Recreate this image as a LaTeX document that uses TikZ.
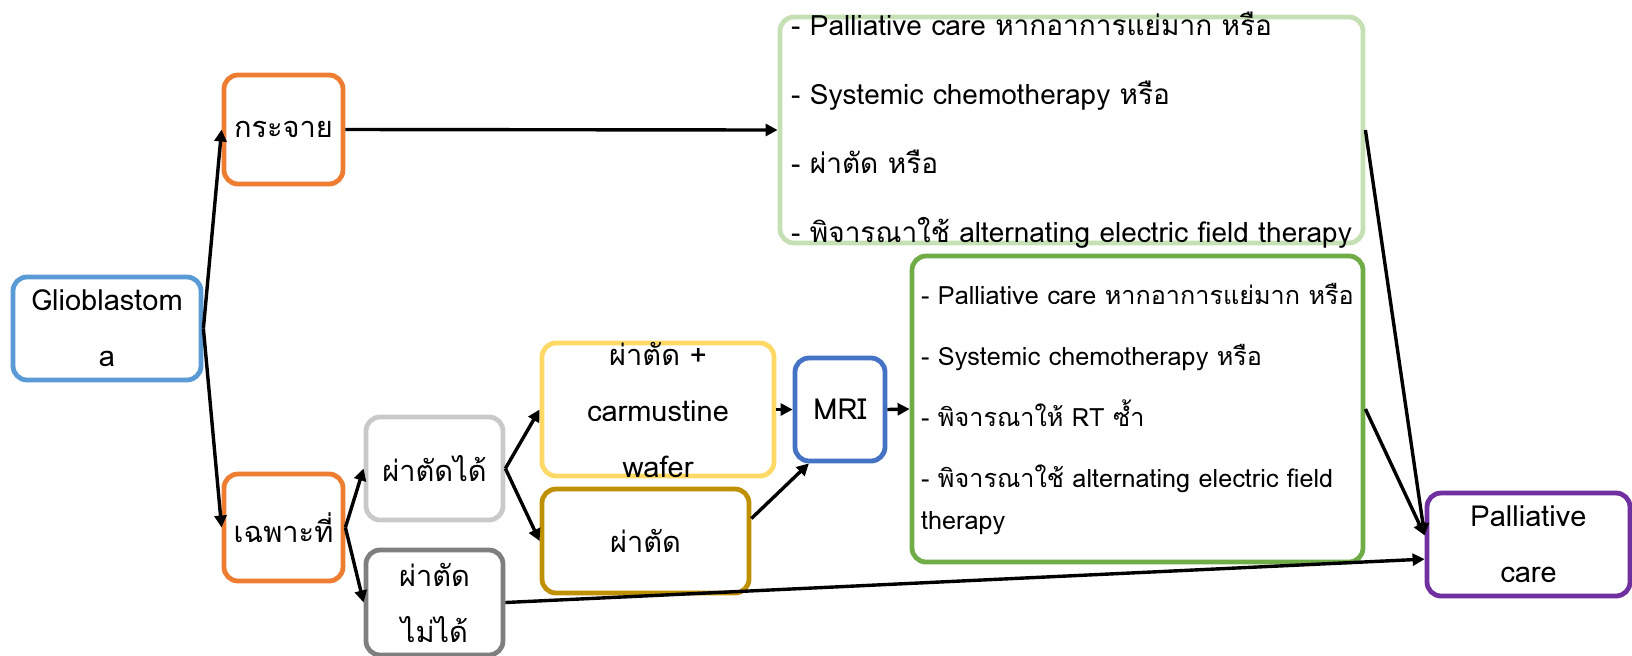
\documentclass[tikz,border=0pt]{standalone}
\usepackage{fontspec}
\setmainfont[Script=Thai]{Loma}
\usepackage{tikz}
\usetikzlibrary{arrows.meta,positioning}

\definecolor{gblue}{HTML}{5B9BD5}
\definecolor{gorange}{HTML}{ED7D31}
\definecolor{glgray}{HTML}{C9C9C9}
\definecolor{gdgray}{HTML}{7F7F7F}
\definecolor{gyellow}{HTML}{FFD966}
\definecolor{ggold}{HTML}{BF9000}
\definecolor{gmri}{HTML}{4472C4}
\definecolor{ggreen}{HTML}{70AD47}
\definecolor{glgreen}{HTML}{C5E0B4}
\definecolor{gpurple}{HTML}{7030A0}

\tikzset{
  box/.style={draw=#1, line width=2.4pt, rounded corners=7pt, fill=white,
    inner sep=0pt, align=center, font=\fontsize{14.5}{28}\selectfont},
  conn/.style={-{Triangle[length=6pt,width=6pt]}, line width=1.7pt},
}

\begin{document}
\begin{tikzpicture}[x=0.5pt,y=-0.5pt]
        \useasboundingbox (0,0) rectangle (1632,655);
        % boxes
        \node[box=gblue, minimum width=94pt, minimum height=51.5pt] (glio) at (107,328.5) {Glioblastom\\a};
        \node[box=gorange, minimum width=59.5pt, minimum height=54.5pt] (spread) at (283.5,129.5) {กระจาย};
        \node[box=gorange, minimum width=59.5pt, minimum height=53.5pt] (local) at (283.5,527.5) {เฉพาะที่};
        \node[box=glgray, minimum width=68.5pt, minimum height=51.5pt] (ok) at (434.5,468.5) {ผ่าตัดได้};
        \node[box=gdgray, minimum width=68.5pt, minimum height=52.5pt] (no) at (434.5,602.5) {ผ่าตัด\\ไม่ได้};
        \node[box=gyellow, minimum width=116pt, minimum height=66.5pt, inner ysep=-3pt] (wafer) at (658,409.5) {ผ่าตัด +\\carmustine\\wafer};
        \node[box=ggold, minimum width=103.5pt, minimum height=52pt] (surg) at (645.5,541) {ผ่าตัด};
        \node[box=gmri, minimum width=45pt, minimum height=51.5pt] (mri) at (840,409.5) {MRI};
        \node[box=gpurple, minimum width=101.5pt, minimum height=51.5pt] (pal) at (1528.5,544.5) {Palliative\\care};
        \node[box=glgreen, minimum width=291.5pt, minimum height=113pt, inner ysep=-6pt,
          align=left, font=\fontsize{14}{34.5}\selectfont] (up) at (1071.5,130)
          {- Palliative care หากอาการแย่มาก หรือ\\
           - Systemic chemotherapy หรือ\\
           - ผ่าตัด หรือ\\
           - พิจารณาใช้ alternating electric field therapy};
        \node[box=ggreen, minimum width=225.5pt, minimum height=153pt,
          align=left, font=\fontsize{12.6}{21}\selectfont] (low) at (1137.5,409)
          {- Palliative care หากอาการแย่มาก หรือ\\[9.5pt]
           - Systemic chemotherapy หรือ\\[9.5pt]
           - พิจารณาให้ RT ซ้ำ\\[9.5pt]
           - พิจารณาใช้ alternating electric field\\
           therapy};
        % connectors
        \draw[conn] (glio.east) -- (spread.west);
        \draw[conn] (glio.east) -- (local.west);
        \draw[conn] (spread.east) -- (up.west);
        \draw[conn] (local.east) -- (ok.west);
        \draw[conn] (local.east) -- (no.west);
        \draw[conn] (ok.east) -- (wafer.west);
        \draw[conn] (ok.east) -- (surg.west);
        \draw[conn] (wafer.east) -- (mri.west);
        \draw[conn] (surg.12) -- (mri.240);
        \draw[conn] (mri.east) -- (low.west);
        \draw[conn] (up.east) -- (pal.175);
        \draw[conn] (low.east) -- (pal.175);
        \draw[conn] (no.east) -- (pal.188);
      \end{tikzpicture}
\end{document}
